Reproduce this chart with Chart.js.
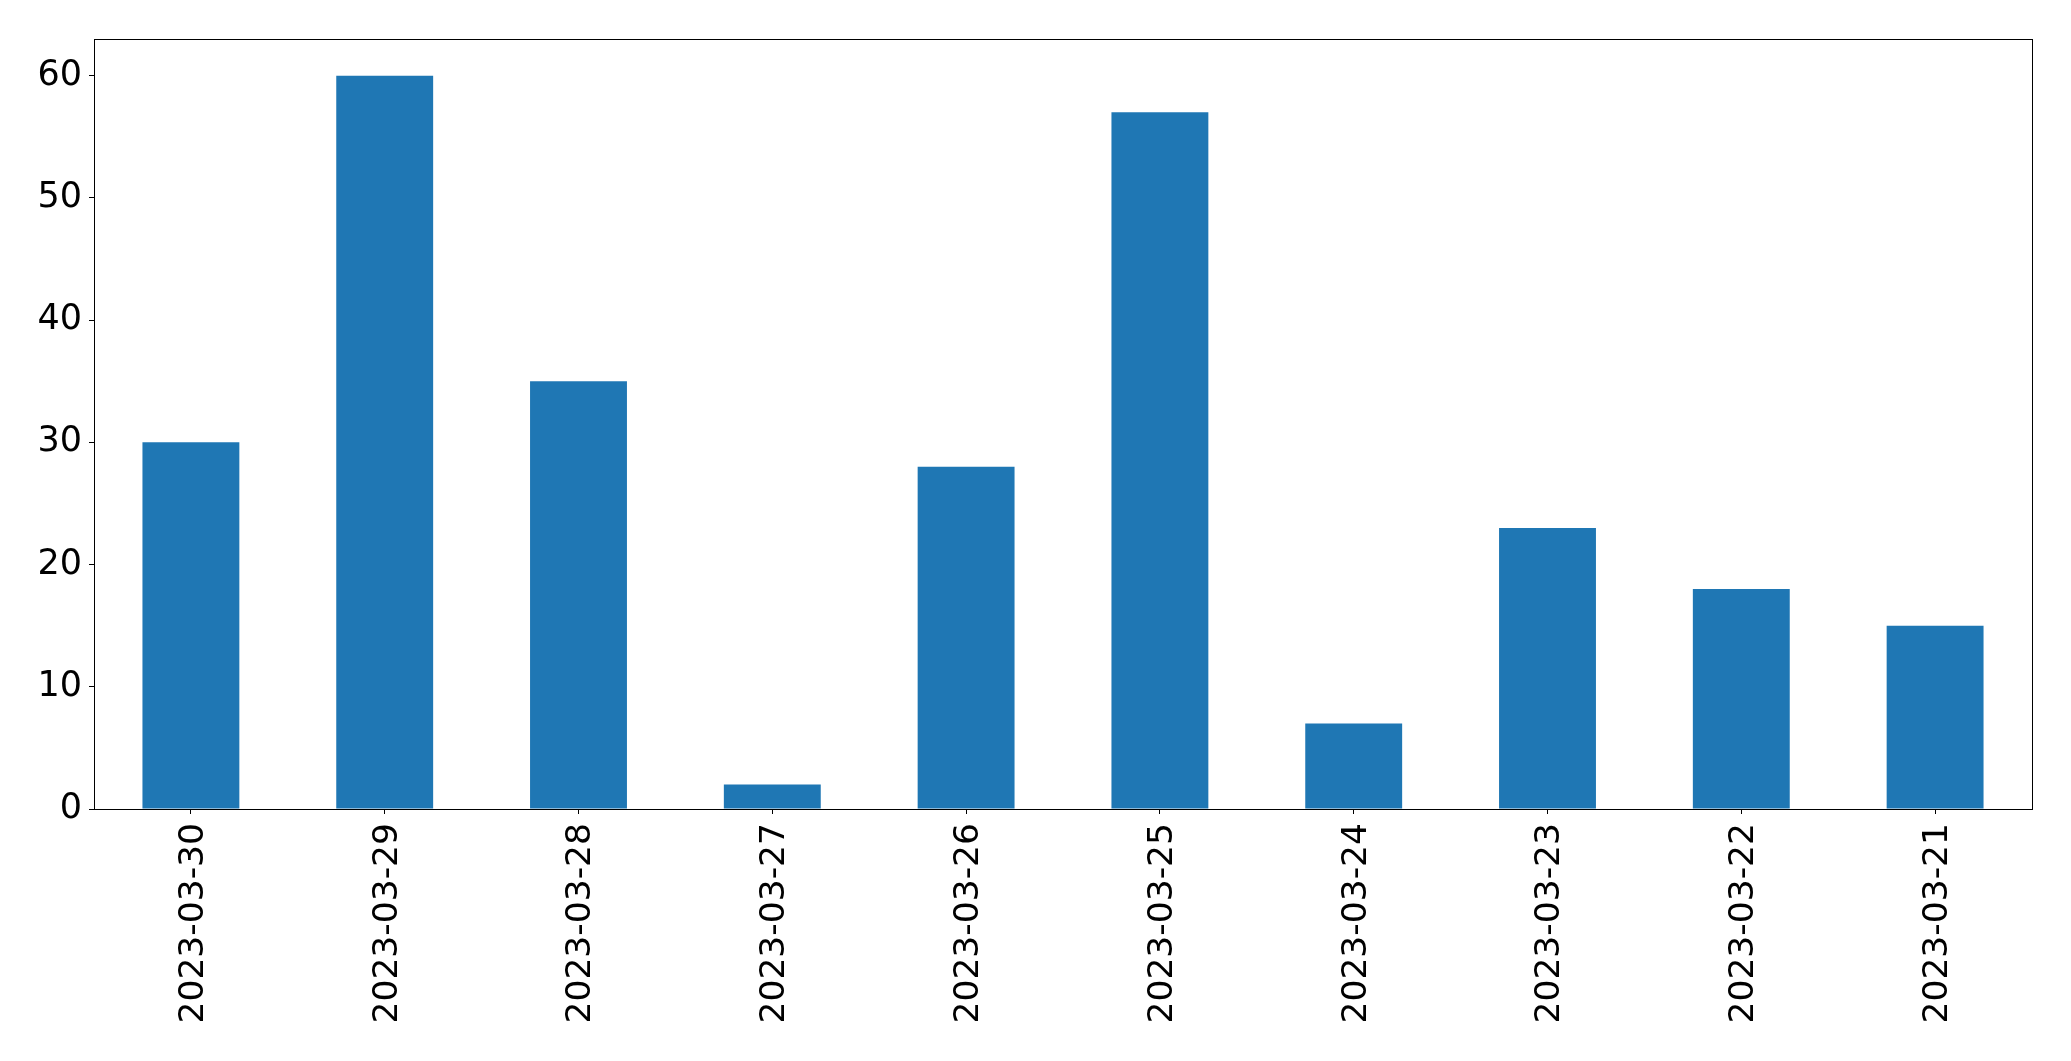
<!DOCTYPE html>
<html>
<head>
<meta charset="utf-8">
<script src="https://cdn.jsdelivr.net/npm/chart.js@4/dist/chart.umd.min.js"></script>
<style>
  html, body { margin: 0; padding: 0; background: #fff; }
  #wrap { position: relative; width: 2071px; height: 1061px; }
</style>
</head>
<body>
<div id="wrap"><canvas id="myChart"></canvas></div>
<script>
'use strict';

const categories = ['2023-03-30', '2023-03-29', '2023-03-28', '2023-03-27', '2023-03-26',
  '2023-03-25', '2023-03-24', '2023-03-23', '2023-03-22', '2023-03-21'];
const counts = [30, 60, 35, 2, 28, 57, 7, 23, 18, 15];
const yTicks = [0, 10, 20, 30, 40, 50, 60];
const yMax = 63;

// draws the box round the plot area, like matplotlib spines
const frame = {
  id: 'frame',
  afterDraw(chart) {
    const a = chart.chartArea;
    const ctx = chart.ctx;
    ctx.save();
    ctx.strokeStyle = '#000';
    ctx.lineWidth = 1;
    ctx.strokeRect(Math.round(a.left) + 0.5, Math.round(a.top) + 0.5,
      Math.round(a.right - a.left), Math.round(a.bottom - a.top));
    ctx.restore();
  }
};

Chart.defaults.font.family = '"DejaVu Sans", sans-serif';
Chart.defaults.color = '#000';

new Chart(document.getElementById('myChart').getContext('2d'), {
  type: 'bar',
  data: {
    labels: categories,
    datasets: [{
      data: counts,
      backgroundColor: '#1f77b4',
      borderWidth: 0,
      categoryPercentage: 1,
      barPercentage: 0.5,
    }]
  },
  options: {
    responsive: true,
    maintainAspectRatio: false,
    animation: false,
    devicePixelRatio: 1,
    layout: { padding: { left: 0, top: 39, right: 39, bottom: 0 } },
    plugins: { legend: { display: false }, tooltip: { enabled: false } },
    scales: {
      x: {
        grid: { display: true, drawOnChartArea: false, drawTicks: true, tickLength: 5,
          color: '#000', lineWidth: 1, offset: false },
        border: { display: false },
        ticks: { font: { size: 34.5 }, minRotation: 90, maxRotation: 90, padding: 9,
          labelOffset: 3, autoSkip: false },
        afterFit(scale) { scale.height = 252; }
      },
      y: {
        min: 0,
        max: yMax,
        grid: { display: true, drawOnChartArea: false, drawTicks: true, tickLength: 5,
          color: '#000', lineWidth: 1 },
        border: { display: false },
        ticks: { font: { size: 35 }, padding: 7 },
        afterBuildTicks(scale) { scale.ticks = yTicks.map(v => ({ value: v })); },
        afterFit(scale) { scale.width = 94; }
      }
    }
  },
  plugins: [frame]
});
</script>
</body>
</html>
